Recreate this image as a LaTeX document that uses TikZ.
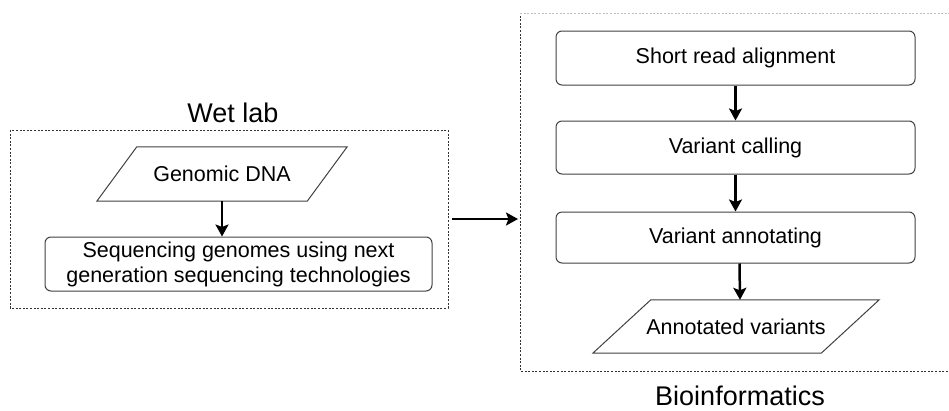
\documentclass[tikz,border=0pt]{standalone}
\usepackage{fontspec}
\setmainfont{Liberation Sans}
\usetikzlibrary{arrows.meta,calc}

\tikzset{
  stepbox/.style={draw=black!75, line width=1pt, rounded corners=6pt,
    align=center, font=\fontsize{21.5}{25}\selectfont, inner sep=0pt},
  iobox/.style={inner sep=0pt, font=\fontsize{21.5}{25}\selectfont, align=center},
  frame/.style={draw=black!80, line width=0.7pt, dash pattern=on 2pt off 1.6pt},
  flow/.style={line width=2.5pt, -{Stealth[length=12pt,width=13pt,inset=2.5pt]}},
  title/.style={font=\fontsize{27}{31}\selectfont}
}

\begin{document}
\begin{tikzpicture}[x=1pt,y=-1pt]
  \useasboundingbox (0,0) rectangle (949,410);

  % ---- Wet lab ----
  \node[title] (wettitle) at (233,113) {Wet lab};
  \draw[frame] (10,130) rectangle (448,308);
  \coordinate (wetE) at (448,219);

  \node[iobox, minimum width=210pt, minimum height=54pt] (gdna) at (222,174) {Genomic DNA};
  \draw[draw=black!75, line width=1pt]
    ($(gdna.north west)+(20,0)$) -- ($(gdna.north east)+(20,0)$) --
    ($(gdna.south east)+(-20,0)$) -- ($(gdna.south west)+(-20,0)$) -- cycle;

  \node[stepbox, minimum width=387pt, minimum height=54pt] (seq) at (238.5,264)
    {Sequencing genomes using next\\generation sequencing technologies};

  \draw[flow] (gdna.south) -- (gdna.south |- seq.north);

  % ---- Bioinformatics ----
  \draw[frame] (955,371) -- (520,371) -- (520,13);
  \draw[frame, draw=black!25] (520,13) -- (955,13);
  \coordinate (bioW) at (520,219);
  \node[title] (biotitle) at (740,395.5) {Bioinformatics};

  \node[stepbox, minimum width=359pt, minimum height=54pt] (align) at (735.5,58) {Short read alignment};
  \node[stepbox, minimum width=359pt, minimum height=53pt] (call) at (735.5,147.5) {Variant calling};
  \node[stepbox, minimum width=359pt, minimum height=51pt] (annot) at (735.5,237.5) {Variant annotating};

  \node[iobox, minimum width=228pt, minimum height=53pt] (avar) at (736,326.5) {Annotated variants};
  \draw[draw=black!75, line width=1pt]
    ($(avar.north west)+(29,0)$) -- ($(avar.north east)+(29,0)$) --
    ($(avar.south east)+(-29,0)$) -- ($(avar.south west)+(-29,0)$) -- cycle;

  \draw[flow] (align) -- (call);
  \draw[flow] (call) -- (annot);
  \draw[flow] ($(annot.south)+(4,0)$) -- ($(avar.north)+(4,0)$);

  % ---- hand-over between the two stages ----
  \draw[flow, shorten <=4pt, shorten >=2pt] (wetE) -- (bioW);
\end{tikzpicture}
\end{document}
